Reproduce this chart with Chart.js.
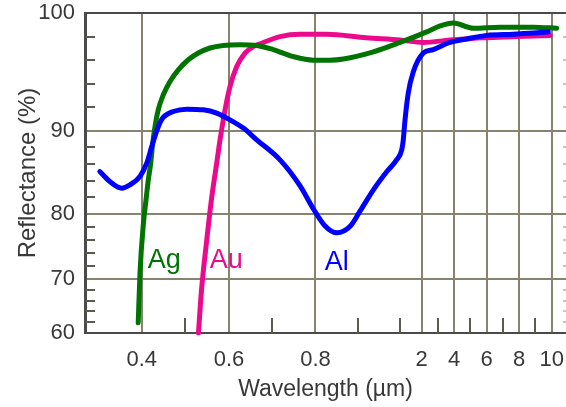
<!DOCTYPE html>
<html><head><meta charset="utf-8">
<script src="https://cdn.jsdelivr.net/npm/chart.js@4/dist/chart.umd.min.js"></script>
<style>html,body{margin:0;padding:0;background:#fff;overflow:hidden}</style>
</head><body>
<canvas id="c" width="566" height="407"></canvas>
<script>
// ---- data ----
const xTickValues = [0.4, 0.6, 0.8, 2, 4, 6, 8, 10];
const xTickLabels = ['0.4', '0.6', '0.8', '2', '4', '6', '8', '10'];
const xMinorTicks = [0.5, 0.7, 0.9, 1, 3, 5, 7, 9];
const yTickValues = [60, 70, 80, 90, 100];
const yTickLabels = ['60', '70', '80', '90', '100'];
const yMinorTicks = [62, 64, 66, 68, 72, 74, 76, 78, 82, 84, 86, 88, 92, 94, 96, 98];

const alWavelength = [0.304,0.327,0.354,0.373,0.396,0.4115,0.4229,0.4344,0.4419,0.4495,0.4724,0.5031,0.5411,0.5718,0.6023,0.6331,0.664,0.718,0.764,0.794,0.822,0.851,0.882,0.905,0.937,0.969,0.992,1.08,1.15,1.23,1.38,1.61,2.1,2.71,3.74,4.77,6.0,7.64,8.87,9.79];
const alReflectance = [85.1,83.9,83.1,83.5,84.5,86.1,88.1,90.0,90.7,91.15,91.64,91.84,91.78,91.5,90.93,90.23,88.92,86.5,83.4,80.7,78.2,77.1,78.1,80.3,82.9,85.1,86.5,87.7,88.9,90.9,93.2,95.0,96.6,96.9,97.5,97.8,98.1,98.2,98.3,98.4];

const agWavelength = [0.392,0.396,0.404,0.4099,0.4151,0.4206,0.4252,0.4305,0.438,0.4495,0.4648,0.4838,0.5068,0.5297,0.5565,0.5869,0.6254,0.664,0.702,0.749,0.795,0.834,0.866,0.937,1.0,2.31,3.13,3.94,5.18,6.82,8.87,10.3];
const agReflectance = [61.9,70.9,78.6,81.7,84.1,86.1,88.5,90.37,91.8,93.06,94.19,95.18,96.03,96.6,97.03,97.25,97.31,97.25,96.9,96.3,96.0,96.0,96.1,96.7,97.5,98.4,98.9,99.15,98.7,98.8,98.8,98.7];

const auWavelength = [0.530,0.537,0.549,0.5604,0.5718,0.5794,0.5909,0.6023,0.6178,0.637,0.6566,0.672,0.718,0.764,0.826,0.920,1.0,2.1,3.74,5.79,7.85,9.9];
const auReflectance = [60,68.0,76.0,82.0,86.1,88.9,91.78,93.76,95.46,96.6,97.16,97.39,98.0,98.2,98.2,97.9,97.7,97.5,97.7,97.9,98.0,98.1];

const curveNames = ['Al', 'Ag', 'Au'];
const labelX = [0.822, 0.414, 0.556];
const labelY = [71.4, 71.7, 71.7];

// ---- axis definition: piecewise (value -> fraction of axis length) ----
const xKnots = [[0.27,0],[0.4,0.1179],[0.6,0.2994],[0.8,0.4792],[1,0.6549],[2,0.7000],[10,0.9703],[10.88,1]];
const yKnots = [[60,0],[70,0.168],[80,0.3722],[90,0.6318],[100,1]];
const knotMap = {x: xKnots, y: yKnots};
const tickMap = {x: xTickValues, y: yTickValues};

function interp(k, v, a, b) {
  for (let i = 1; i < k.length; i++) {
    if (v <= k[i][a] || i === k.length - 1) {
      const p = k[i-1], q = k[i];
      return p[b] + (v - p[a]) * (q[b] - p[b]) / (q[a] - p[a]);
    }
  }
}
const LinearScale = Chart.LinearScale || Chart.registry.getScale('linear');
class PiecewiseScale extends LinearScale {
  determineDataLimits() {
    const k = knotMap[this.id];
    this.min = k[0][0]; this.max = k[k.length-1][0];
  }
  buildTicks() {
    const k = knotMap[this.id];
    this.min = k[0][0]; this.max = k[k.length-1][0];
    this.start = this.min; this.end = this.max;
    return tickMap[this.id].map(v => ({value: v}));
  }
  getPixelForValue(value) {
    return this.getPixelForDecimal(interp(knotMap[this.id], value, 0, 1));
  }
  getValueForPixel(pixel) {
    return interp(knotMap[this.id], this.getDecimalForPixel(pixel), 1, 0);
  }
}
PiecewiseScale.id = 'piecewise';
PiecewiseScale.defaults = {};
Chart.register(PiecewiseScale);

const pts = (xs, ys) => xs.map((x, i) => ({x, y: ys[i]}));
const colors = ['#0000ff', '#007300', '#ec0a8c'];

const FONT = "'Liberation Sans', Arial, Helvetica, sans-serif";
const TXT = '#383838';
const GRID = '#86836f';

const decorPlugin = {
  id: 'decor',
  beforeDatasetsDraw(chart) {
    const ctx = chart.ctx, xs = chart.scales.x, ys = chart.scales.y, a = chart.chartArea;
    ctx.save();
    ctx.strokeStyle = '#5a5a50';
    ctx.lineWidth = 2;
    ctx.beginPath();
    xMinorTicks.forEach(v => { const p = Math.round(xs.getPixelForValue(v)); ctx.moveTo(p, a.bottom); ctx.lineTo(p, a.bottom - 15); });
    yMinorTicks.forEach(v => { const p = Math.round(ys.getPixelForValue(v)); ctx.moveTo(a.left, p); ctx.lineTo(a.left + 10, p); });
    ctx.stroke();
    ctx.strokeStyle = '#c8c8c0';
    ctx.beginPath();
    yMinorTicks.forEach(v => { const p = Math.round(ys.getPixelForValue(v)); ctx.moveTo(a.right - 3, p); ctx.lineTo(a.right, p); });
    ctx.stroke();
    ctx.strokeStyle = '#4a4a4a';
    ctx.lineWidth = 2;
    ctx.beginPath(); ctx.moveTo(a.left, a.top); ctx.lineTo(a.right, a.top); ctx.stroke();
    ctx.restore();
  },
  afterDatasetsDraw(chart) {
    const ctx = chart.ctx, xs = chart.scales.x, ys = chart.scales.y;
    ctx.save();
    ctx.font = '27px ' + FONT;
    ctx.textAlign = 'left';
    ctx.textBaseline = 'alphabetic';
    curveNames.forEach((n, i) => {
      ctx.fillStyle = colors[i];
      ctx.fillText(n, xs.getPixelForValue(labelX[i]), ys.getPixelForValue(labelY[i]));
    });
    ctx.restore();
  }
};

new Chart(document.getElementById('c'), {
  type: 'line',
  data: {
    datasets: [
      {label: 'Al', data: pts(alWavelength, alReflectance)},
      {label: 'Ag', data: pts(agWavelength, agReflectance)},
      {label: 'Au', data: pts(auWavelength, auReflectance)}
    ].map((d, i) => Object.assign(d, {
      borderColor: colors[i], backgroundColor: colors[i], borderWidth: 5,
      pointRadius: 0, fill: false, cubicInterpolationMode: 'monotone',
      borderCapStyle: 'round', borderJoinStyle: 'round'
    }))
  },
  options: {
    responsive: false, animation: false, devicePixelRatio: 1,
    layout: {padding: {top: 13, right: 0, left: 0, bottom: 0}},
    plugins: {legend: {display: false}, tooltip: {enabled: false}},
    scales: {
      x: {
        type: 'piecewise', position: 'bottom',
        grid: {drawTicks: false, color: GRID, lineWidth: 2},
        border: {display: true, color: '#4a4a4a', width: 2},
        ticks: {autoSkip: false, maxRotation: 0, padding: 14, color: TXT,
                font: {family: FONT, size: 22},
                callback: (v, i) => xTickLabels[i]},
        title: {display: true, text: 'Wavelength (µm)', color: TXT,
                font: {family: FONT, size: 23}, padding: {top: 0, bottom: 4}},
        afterFit: s => { s.height = 74; s.paddingLeft = 0; s.paddingRight = 0; }
      },
      y: {
        type: 'piecewise', position: 'left',
        grid: {drawTicks: false, color: GRID, lineWidth: 2},
        border: {display: true, color: '#4a4a4a', width: 3},
        ticks: {autoSkip: false, padding: 10, color: TXT,
                font: {family: FONT, size: 22},
                callback: (v, i) => yTickLabels[i]},
        title: {display: true, text: 'Reflectance (%)', color: TXT,
                font: {family: FONT, size: 24}, padding: {top: 14, bottom: 0}},
        afterFit: s => { s.width = 85; s.paddingTop = 0; s.paddingBottom = 0; }
      }
    }
  },
  plugins: [decorPlugin]
});
</script>
</body></html>
